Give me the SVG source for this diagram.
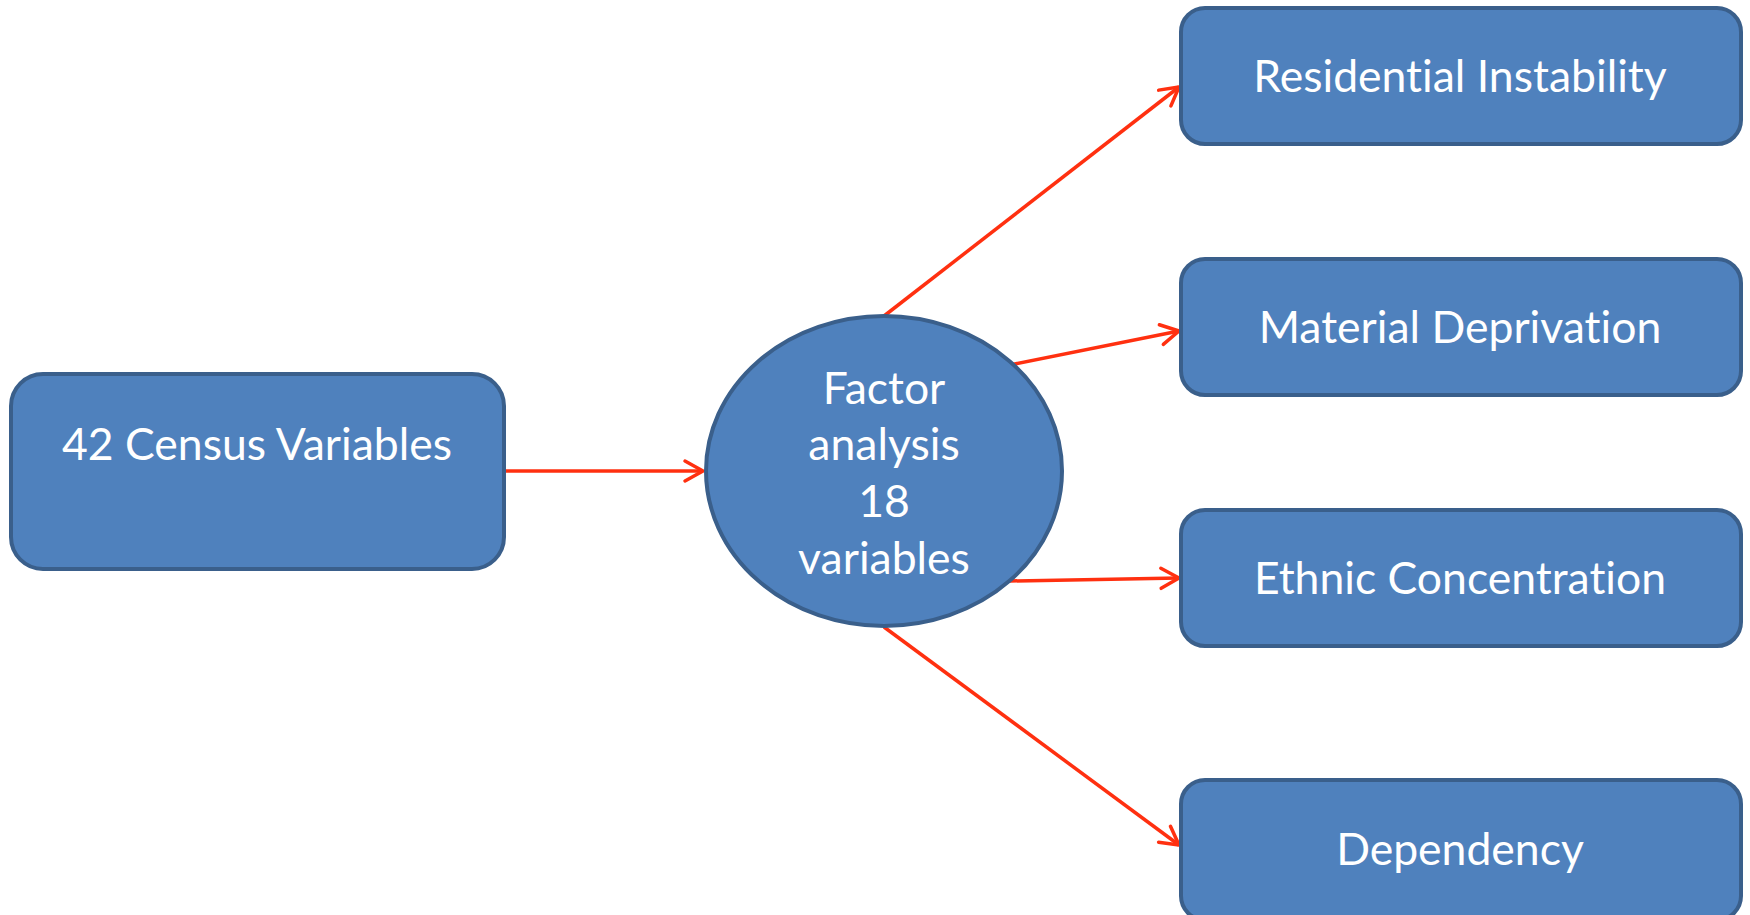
<svg xmlns="http://www.w3.org/2000/svg" width="1750" height="915" viewBox="0 0 1750 915">
<style>
.box{fill:#4F81BD;stroke:#3A5F8B;stroke-width:4}
.t{fill:#FFFFFF;font-family:Lato,"Liberation Sans",sans-serif;font-size:44.5px;text-anchor:middle;font-variant-ligatures:none;font-feature-settings:"liga" 0}
.c{stroke:#FF3010;stroke-width:3.5;fill:none}
</style>
<defs>
<marker id="ah" markerUnits="userSpaceOnUse" markerWidth="26" markerHeight="26" viewBox="0 0 26 26" refX="22" refY="13" orient="auto">
<path d="M4,3 L22,13 L4,23" fill="none" stroke="#FF3010" stroke-width="3.5" stroke-linecap="round" stroke-linejoin="round"/>
</marker>
</defs>
<g id="connectors">
<line class="c" x1="505" y1="471" x2="703" y2="471" marker-end="url(#ah)"/>
<line class="c" x1="884" y1="316" x2="1179" y2="87" marker-end="url(#ah)"/>
<line class="c" x1="1010" y1="365" x2="1179" y2="331" marker-end="url(#ah)"/>
<line class="c" x1="1010" y1="581" x2="1179" y2="578" marker-end="url(#ah)"/>
<line class="c" x1="884" y1="627" x2="1179" y2="845" marker-end="url(#ah)"/>
</g>
<g id="census">
<rect class="box" x="11" y="374" width="493" height="195" rx="32"/>
<text class="t" x="257" y="460">42 Census Variables</text>
</g>
<g id="factor">
<ellipse class="box" cx="884" cy="471" rx="178" ry="155"/>
<text class="t" x="884" y="404">Factor</text>
<text class="t" x="884" y="460">analysis</text>
<text class="t" x="884" y="517">18</text>
<text class="t" x="884" y="574">variables</text>
</g>
<g id="residential">
<rect class="box" x="1181" y="8" width="560" height="136" rx="24"/>
<text class="t" x="1460" y="92">Residential Instability</text>
</g>
<g id="material">
<rect class="box" x="1181" y="259" width="560" height="136" rx="24"/>
<text class="t" x="1460" y="343">Material Deprivation</text>
</g>
<g id="ethnic">
<rect class="box" x="1181" y="510" width="560" height="136" rx="24"/>
<text class="t" x="1460" y="594">Ethnic Concentration</text>
</g>
<g id="dependency">
<rect class="box" x="1181" y="780" width="560" height="140" rx="24"/>
<text class="t" x="1460" y="865">Dependency</text>
</g>
</svg>
